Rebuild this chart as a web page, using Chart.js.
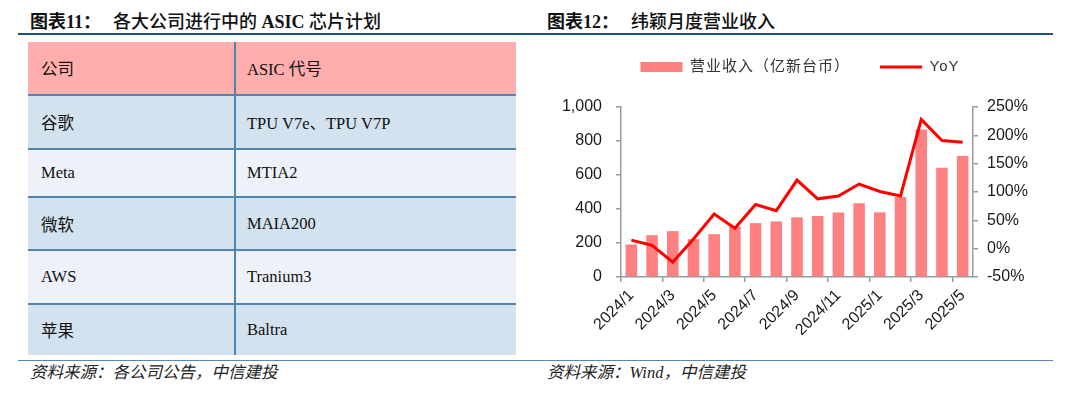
<!DOCTYPE html>
<html>
<head>
<meta charset="utf-8">
<script src="https://cdn.jsdelivr.net/npm/chart.js@4.4.1/dist/chart.umd.min.js"></script>
<style>
  body { margin: 0; width: 1080px; height: 396px; background: #fff; position: relative; overflow: hidden; color: #111; }
  .ttl { position: absolute; top: 11px; font-size: 18px; line-height: 22px; font-family: 'Liberation Serif', 'Noto Sans CJK SC', serif; font-weight: 500; white-space: nowrap; }
  .ttl b { font-weight: bold; }
  .rule { position: absolute; left: 18px; width: 1035px; }
  .src { position: absolute; top: 362px; font-size: 16.5px; line-height: 22px; font-style: italic; font-family: 'Liberation Serif', 'Noto Sans CJK SC', serif; color: #222; white-space: nowrap; }
  .row { position: absolute; left: 28px; width: 488px; box-sizing: border-box; }
  .cell { position: absolute; top: 0; bottom: 0; display: flex; align-items: center; font-size: 16.5px; font-family: 'Liberation Serif', 'Noto Sans CJK SC', serif; white-space: nowrap; }
  #box { position: absolute; left: 545px; top: 40px; width: 510px; height: 315px; }
</style>
</head>
<body>
<div class="ttl" style="left:30px"><b>图表11：</b></div>
<div class="ttl" style="left:113px">各大公司进行中的 <b>ASIC</b> 芯片计划</div>
<div class="ttl" style="left:547px"><b>图表12：</b></div>
<div class="ttl" style="left:631px">纬颖月度营业收入</div>
<div class="rule" style="top:33px;height:2px;background:#1f5282"></div>

<div id="table"></div>

<div class="rule" style="top:360px;height:1px;background:#5a87b0"></div>
<div class="src" style="left:30px">资料来源：各公司公告，中信建投</div>
<div class="src" style="left:547px">资料来源：Wind，中信建投</div>

<div id="box"><canvas id="grafica" width="510" height="315"></canvas></div>

<script>
// tabla
const tableHead = ['公司', 'ASIC 代号'];
const companies = ['谷歌', 'Meta', '微软', 'AWS', '苹果'];
const asicCodes = ['TPU V7e、TPU V7P', 'MTIA2', 'MAIA200', 'Tranium3', 'Baltra'];

// grafica
const months = ['2024/1', '2024/2', '2024/3', '2024/4', '2024/5', '2024/6', '2024/7', '2024/8', '2024/9',
  '2024/10', '2024/11', '2024/12', '2025/1', '2025/2', '2025/3', '2025/4', '2025/5'];
const revenue = [191, 246, 270, 223, 252, 296, 317, 327, 351, 359, 380, 434, 380, 471, 868, 642, 712];
const yoy = [15, 6, -24, 17, 61, 36, 78, 67, 121, 88, 93, 114, 101, 93, 228, 191, 188];
const revTicks = [0, 200, 400, 600, 800, 1000];
const yoyTicks = [-50, 0, 50, 100, 150, 200, 250];

const rowTops = [42, 94, 148, 196, 249, 303];
const rowHeights = [52, 54, 48, 53, 54, 52];
const rowColors = ['#ffadad', '#d3e2ef', '#edf2f8', '#d3e2ef', '#edf2f8', '#d3e2ef'];
const lineColor = '#5284b0';

const rows = [tableHead].concat(companies.map((c, i) => [c, asicCodes[i]]));
const table = document.getElementById('table');
rows.forEach((r, i) => {
  const row = document.createElement('div');
  row.className = 'row';
  row.style.top = rowTops[i] + 'px';
  row.style.height = rowHeights[i] + 'px';
  row.style.background = rowColors[i];
  if (i > 0) row.style.borderTop = '2px solid ' + lineColor;
  row.innerHTML =
    '<div class="cell" style="left:13px">' + r[0] + '</div>' +
    '<div class="cell" style="left:206px;padding-left:11px;border-left:2px solid ' + lineColor + ';right:0">' + r[1] + '</div>';
  table.appendChild(row);
});

const axisGrey = '#9a9a9a';
const tickFont = { family: "'Liberation Sans', Arial, sans-serif", size: 16 };

// espaciado de la leyenda
const legendTweak = {
  id: 'legendTweak',
  beforeInit(chart) {
    const lg = chart.legend;
    if (!lg) return;
    const fit = lg.fit;
    const draw = lg.draw;
    lg.fit = function () {
      this.ctx.save();
      this.ctx.letterSpacing = '1px';
      fit.call(this);
      this.ctx.restore();
      this.height += 12;
    };
    lg.draw = function () {
      const c = this.ctx;
      c.save();
      c.letterSpacing = '1px';
      c.translate(0, -10.5);
      draw.call(this);
      c.restore();
    };
  }
};

const ctx = document.getElementById('grafica').getContext('2d');
const grafica = new Chart(ctx, {
  type: 'bar',
  data: {
    labels: months,
    datasets: [{
      label: '营业收入（亿新台币）',
      data: revenue,
      backgroundColor: '#ff8080',
      borderWidth: 0,
      barPercentage: 0.56,
      categoryPercentage: 1,
      pointStyle: 'rect',
      yAxisID: 'y',
      order: 1
    }, {
      type: 'line',
      label: 'YoY',
      data: yoy,
      borderColor: '#ff0000',
      backgroundColor: '#ff0000',
      borderWidth: 3,
      pointRadius: 0,
      tension: 0,
      pointStyle: 'line',
      yAxisID: 'y1',
      order: 0
    }]
  },
  options: {
    responsive: false,
    animation: false,
    devicePixelRatio: 1,
    layout: { padding: 0 },
    plugins: {
      tooltip: { enabled: false },
      legend: {
        position: 'top',
        labels: {
          usePointStyle: true,
          pointStyleWidth: 42,
          boxHeight: 10,
          padding: 30,
          color: '#333',
          font: { family: "'Liberation Sans', 'Noto Sans CJK SC', sans-serif", size: 15 },
          sort: (a, b) => a.datasetIndex - b.datasetIndex
        }
      }
    },
    scales: {
      x: {
        offset: true,
        grid: {
          offset: true,
          drawOnChartArea: false,
          drawTicks: true,
          tickLength: 5,
          lineWidth: 1.5,
          color: c => (c.index ?? 1) % 2 === 0 ? axisGrey : 'rgba(0,0,0,0)'
        },
        border: { display: true, color: axisGrey, width: 1.5 },
        ticks: {
          autoSkip: false,
          maxRotation: 45,
          minRotation: 45,
          padding: 4,
          color: '#1a1a1a',
          font: tickFont,
          callback: (v, i) => i % 2 === 0 ? months[i] : ''
        },
        afterFit: s => { s.height = 78; }
      },
      y: {
        position: 'left',
        min: revTicks[0],
        max: revTicks[revTicks.length - 1],
        afterBuildTicks: s => { s.ticks = revTicks.map(v => ({ value: v })); },
        grid: { drawOnChartArea: false, tickLength: 5, lineWidth: 1.5, color: axisGrey },
        border: { display: true, color: axisGrey, width: 1.5 },
        ticks: {
          padding: 14,
          color: '#1a1a1a',
          font: tickFont,
          callback: v => v.toLocaleString('en-US')
        },
        afterFit: s => { s.width = 76; }
      },
      y1: {
        position: 'right',
        min: yoyTicks[0],
        max: yoyTicks[yoyTicks.length - 1],
        afterBuildTicks: s => { s.ticks = yoyTicks.map(v => ({ value: v })); },
        grid: { drawOnChartArea: false, tickLength: 5, lineWidth: 1.5, color: axisGrey },
        border: { display: true, color: axisGrey, width: 1.5 },
        ticks: {
          padding: 9,
          color: '#1a1a1a',
          font: tickFont,
          callback: v => v + '%'
        },
        afterFit: s => { s.width = 82; }
      }
    }
  },
  plugins: [legendTweak]
});
</script>
</body>
</html>
